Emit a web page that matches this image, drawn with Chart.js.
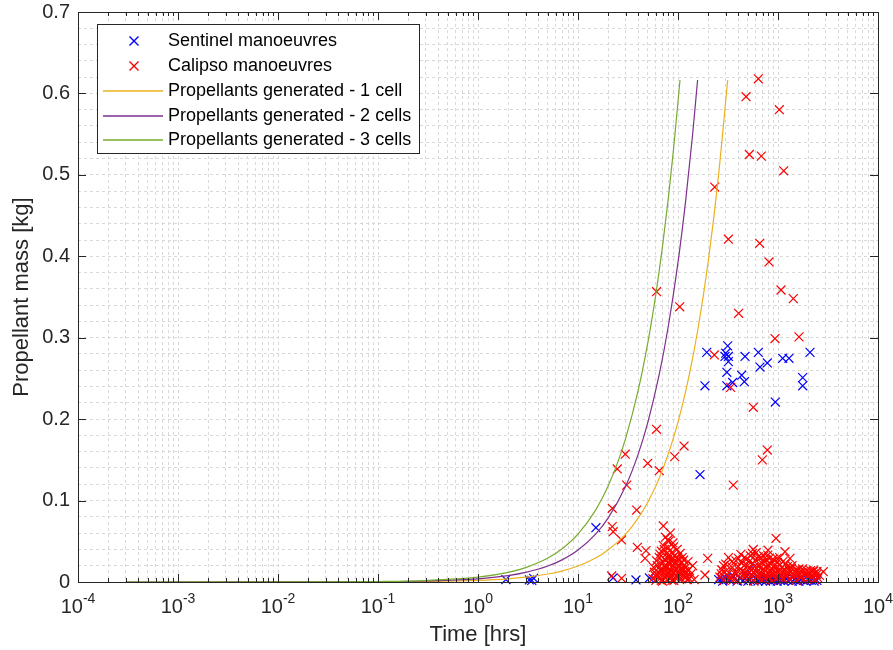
<!DOCTYPE html>
<html>
<head>
<meta charset="utf-8">
<script src="https://cdn.jsdelivr.net/npm/chart.js@4.4.1/dist/chart.umd.min.js"></script>
<style>
  html, body { margin: 0; padding: 0; background: #fff; }
  #wrap { position: relative; width: 893px; height: 650px; }
</style>
</head>
<body>
<div id="wrap"><canvas id="chart"></canvas></div>
<script>
// axis ticks
const xDecades = [-4, -3, -2, -1, 0, 1, 2, 3, 4];
const yTickValues = [0, 0.1, 0.2, 0.3, 0.4, 0.5, 0.6, 0.7];

const seriesNames = [
  'Sentinel manoeuvres',
  'Calipso manoeuvres',
  'Propellants generated - 1 cell',
  'Propellants generated - 2 cells',
  'Propellants generated - 3 cells',
];
const seriesColors = ['#0000ff', '#ff0000', '#edb120', '#7e2f8e', '#77ac30'];

// [time hrs, propellant kg]
const sentinelPoints = [
  [1.9, 0.003], [3.26, 0.0025], [3.45, 0.002], [3.6, 0.0045], [15.1, 0.0667],
  [22.4, 0.005], [38, 0.0025], [51.8, 0.005],
  [166, 0.132], [186, 0.241], [194, 0.282], [295, 0.277], [300, 0.281],
  [308, 0.2575], [308, 0.241], [314, 0.29], [319, 0.277], [319, 0.2706],
  [352, 0.245], [433, 0.254], [461, 0.246], [468, 0.277], [636, 0.282],
  [661, 0.264], [782, 0.269], [940, 0.221], [1114, 0.2747], [1288, 0.2747],
  [1766, 0.251], [1766, 0.241], [2089, 0.282],
  [255, 0.003], [275, 0.004], [280, 0.001], [300, 0.005], [330, 0.002],
  [360, 0.007], [390, 0.001], [420, 0.004], [450, 0.002], [480, 0.006],
  [500, 0.001], [520, 0.003], [525, 0.0168], [545, 0.009], [570, 0.002],
  [600, 0.005], [630, 0.001], [660, 0.004], [690, 0.002], [720, 0.006],
  [750, 0.001], [780, 0.003], [810, 0.005], [840, 0.001], [870, 0.004],
  [900, 0.002], [940, 0.003], [980, 0.001], [1020, 0.004], [1060, 0.002],
  [1100, 0.003], [1150, 0.001], [1200, 0.004], [1260, 0.002], [1320, 0.003],
  [1390, 0.001], [1460, 0.003], [1540, 0.002], [1620, 0.001], [1700, 0.003],
  [1800, 0.002], [1900, 0.001], [2000, 0.003], [2150, 0.002], [2300, 0.001],
  [2450, 0.002],
];

const calipsoPoints = [
  [636, 0.618], [479, 0.596], [1031, 0.58], [517, 0.525], [681, 0.523],
  [1140, 0.505], [233, 0.485], [319, 0.421], [656, 0.416], [813, 0.393],
  [61, 0.3565], [1072, 0.3586], [1423, 0.348], [104, 0.338], [404, 0.33],
  [933, 0.299], [1622, 0.301], [231, 0.2788], [336, 0.239], [566, 0.2145],
  [61, 0.1875], [782, 0.162], [697, 0.15], [29.7, 0.157], [115, 0.167],
  [92.7, 0.154], [49.8, 0.1458], [24.7, 0.1388], [65, 0.1367], [30.7, 0.119],
  [357, 0.119], [22, 0.0905], [38.6, 0.0884], [22, 0.068], [22.5, 0.0618],
  [27.3, 0.0516], [71.3, 0.0688], [79, 0.0516], [39.2, 0.0426], [47.9, 0.0385],
  [46.8, 0.029], [198, 0.029], [275, 0.0147], [21.7, 0.0074], [27.3, 0.0045],
  [186, 0.0086], [120, 0.0058], [113, 0.0156], [955, 0.0537], [1175, 0.0372],
  [402, 0.029], [566, 0.04], [794, 0.039], [2838, 0.0127], [2270, 0.0147],
  [1317, 0.029],
  // cluster around 100 hrs
  [56, 0.004], [58, 0.012], [60, 0.002], [62, 0.02], [63, 0.008], [65, 0.03],
  [66, 0.015], [67, 0.005], [68, 0.038], [69, 0.022], [70, 0.001], [71, 0.045],
  [72, 0.012], [73, 0.028], [74, 0.006], [75, 0.055], [76, 0.018], [77, 0.035],
  [78, 0.003], [79, 0.024], [80, 0.042], [81, 0.01], [82, 0.03], [83, 0.016],
  [84, 0.06], [85, 0.006], [86, 0.026], [87, 0.036], [88, 0.012], [89, 0.048],
  [90, 0.02], [91, 0.002], [92, 0.032], [93, 0.014], [95, 0.025], [96, 0.007],
  [98, 0.04], [100, 0.018], [102, 0.028], [104, 0.009], [106, 0.022], [108, 0.004],
  [110, 0.03], [112, 0.014], [115, 0.02], [118, 0.006], [122, 0.012], [126, 0.025],
  [130, 0.004], [135, 0.01], [145, 0.003],
  [57, 0.018], [59, 0.008], [61, 0.026], [64, 0.011], [66, 0.034], [68, 0.002],
  [70, 0.016], [71, 0.024], [73, 0.04], [74, 0.019], [76, 0.008], [78, 0.03],
  [80, 0.012], [81, 0.05], [83, 0.004], [84, 0.022], [86, 0.014], [87, 0.002],
  [88, 0.03], [90, 0.043], [91, 0.011], [93, 0.024], [94, 0.005], [97, 0.016],
  [99, 0.03], [101, 0.006], [103, 0.013], [105, 0.035], [107, 0.017], [109, 0.024],
  [111, 0.008], [114, 0.027], [117, 0.013], [120, 0.018], [124, 0.003], [128, 0.015],
  [140, 0.02],
  // cluster around 1000 hrs
  [262, 0.006], [275, 0.015], [290, 0.002], [300, 0.022], [310, 0.009], [320, 0.03],
  [335, 0.004], [350, 0.018], [365, 0.011], [380, 0.026], [395, 0.002], [410, 0.014],
  [425, 0.034], [440, 0.007], [455, 0.02], [470, 0.012], [485, 0.028], [500, 0.004],
  [515, 0.017], [530, 0.032], [545, 0.009], [560, 0.023], [575, 0.001], [590, 0.014],
  [605, 0.036], [620, 0.006], [640, 0.02], [655, 0.011], [670, 0.03], [690, 0.003],
  [710, 0.016], [730, 0.025], [750, 0.008], [770, 0.019], [790, 0.033], [810, 0.005],
  [830, 0.013], [850, 0.022], [870, 0.002], [890, 0.028], [910, 0.01], [935, 0.017],
  [960, 0.004], [985, 0.024], [1010, 0.012], [1040, 0.03], [1070, 0.007], [1100, 0.018],
  [1130, 0.003], [1160, 0.014], [1190, 0.022], [1220, 0.009], [1260, 0.016], [1300, 0.004],
  [1340, 0.012], [1380, 0.02], [1420, 0.006], [1470, 0.014], [1520, 0.002], [1570, 0.01],
  [1620, 0.016], [1680, 0.005], [1740, 0.012], [1800, 0.003], [1870, 0.009], [1940, 0.014],
  [2010, 0.004], [2090, 0.011], [2170, 0.006], [2250, 0.013], [2330, 0.003], [2420, 0.009],
  [2500, 0.005],
  [270, 0.01], [285, 0.02], [305, 0.014], [325, 0.005], [345, 0.025], [360, 0.003],
  [375, 0.012], [400, 0.019], [430, 0.024], [445, 0.013], [460, 0.03], [480, 0.008],
  [495, 0.02], [510, 0.011], [525, 0.026], [540, 0.015], [555, 0.035], [580, 0.019],
  [600, 0.027], [615, 0.012], [635, 0.031], [650, 0.005], [665, 0.017], [680, 0.024],
  [700, 0.01], [720, 0.032], [740, 0.014], [760, 0.027], [780, 0.007], [800, 0.021],
  [820, 0.029], [845, 0.009], [860, 0.016], [880, 0.025], [920, 0.02], [950, 0.012],
  [975, 0.029], [1000, 0.006], [1050, 0.021], [1090, 0.013], [1120, 0.025], [1180, 0.008],
  [1240, 0.019], [1280, 0.011], [1360, 0.017], [1450, 0.009], [1550, 0.015], [1650, 0.01],
  [1760, 0.016], [1850, 0.012], [1980, 0.008], [2120, 0.014], [2280, 0.01], [2450, 0.013],
  [2600, 0.008],
];

// generation curves
const cell1Time = [0.0003, 0.001, 0.01, 0.1, 0.3, 1, 2, 3, 5, 7, 10, 15, 20, 30, 40, 50, 70, 100, 130, 160, 200, 250, 314];
const cell1Mass = [0.0000006, 0.000002, 0.00002, 0.0002, 0.0006, 0.002, 0.0039, 0.0059, 0.0098, 0.0137, 0.0196, 0.0294, 0.0393, 0.0589, 0.0785, 0.0982, 0.1374, 0.1963, 0.2552, 0.3141, 0.3926, 0.4908, 0.6165];
const cell2Time = [0.0003, 0.001, 0.01, 0.1, 0.3, 1, 2, 3, 5, 7, 10, 15, 20, 30, 40, 50, 65, 80, 100, 120, 140, 157];
const cell2Mass = [0.0000012, 0.000004, 0.00004, 0.0004, 0.0012, 0.0039, 0.0079, 0.0118, 0.0196, 0.0275, 0.0393, 0.0589, 0.0785, 0.1178, 0.157, 0.1963, 0.2552, 0.3141, 0.3926, 0.4711, 0.5496, 0.6165];
const cell3Time = [0.0003, 0.001, 0.01, 0.1, 0.3, 1, 2, 3, 5, 7, 10, 15, 20, 25, 30, 40, 50, 60, 70, 80, 90, 104.7];
const cell3Mass = [0.0000018, 0.000006, 0.00006, 0.0006, 0.0018, 0.0059, 0.0118, 0.0177, 0.0294, 0.0412, 0.0589, 0.0883, 0.1178, 0.1472, 0.1767, 0.2356, 0.2944, 0.3533, 0.4122, 0.4711, 0.53, 0.6165];

const axisColor = '#262626';
const gridColor = '#d9d9d9';
const fontFamily = '"Liberation Sans", Arial, Helvetica, sans-serif';

function toPoints(pairs) {
  return pairs.map(([t, m]) => ({x: t, y: m}));
}

function zip(times, masses) {
  return times.map((t, i) => ({x: t, y: masses[i]}));
}

function scatterSet(index, pairs, order) {
  return {
    label: seriesNames[index],
    data: toPoints(pairs),
    showLine: false,
    pointStyle: 'crossRot',
    pointRadius: 6.3,
    pointBorderWidth: 1.2,
    borderColor: seriesColors[index],
    backgroundColor: seriesColors[index],
    clip: false,
    order,
  };
}

function curveSet(index, times, masses, order) {
  return {
    label: seriesNames[index],
    data: zip(times, masses),
    showLine: true,
    pointRadius: 0,
    borderColor: seriesColors[index],
    backgroundColor: seriesColors[index],
    borderWidth: 1.2,
    cubicInterpolationMode: 'monotone',
    fill: false,
    order,
  };
}

// box, inward ticks, 10^n labels and legend like the original figure
const matlabAxes = {
  id: 'matlabAxes',
  afterDraw(chart) {
    const {ctx, chartArea: a, scales: {x, y}} = chart;
    ctx.save();
    ctx.strokeStyle = axisColor;
    ctx.lineWidth = 1;
    ctx.beginPath();
    for (const e of xDecades) {
      for (let m = 1; m < 10; m++) {
        const v = m * Math.pow(10, e);
        if (v > 1e4) break;
        const px = Math.round(x.getPixelForValue(v)) + 0.5;
        const len = m === 1 ? 8 : 4;
        ctx.moveTo(px, a.bottom);
        ctx.lineTo(px, a.bottom - len);
        ctx.moveTo(px, a.top);
        ctx.lineTo(px, a.top + len);
      }
    }
    for (const v of yTickValues) {
      const py = Math.round(y.getPixelForValue(v)) + 0.5;
      ctx.moveTo(a.left, py);
      ctx.lineTo(a.left + 8, py);
      ctx.moveTo(a.right, py);
      ctx.lineTo(a.right - 8, py);
    }
    ctx.stroke();
    ctx.strokeRect(Math.round(a.left) + 0.5, Math.round(a.top) + 0.5,
      Math.round(a.right - a.left), Math.round(a.bottom - a.top));

    // x tick labels 10^n
    ctx.fillStyle = axisColor;
    ctx.textBaseline = 'alphabetic';
    ctx.textAlign = 'left';
    for (const e of xDecades) {
      const px = x.getPixelForValue(Math.pow(10, e));
      const exp = String(e);
      ctx.font = '20px ' + fontFamily;
      const wb = ctx.measureText('10').width;
      ctx.font = '14px ' + fontFamily;
      const we = ctx.measureText(exp).width;
      const start = px - (wb + we) / 2;
      ctx.font = '20px ' + fontFamily;
      ctx.fillText('10', start, a.bottom + 31);
      ctx.font = '14px ' + fontFamily;
      ctx.fillText(exp, start + wb, a.bottom + 21);
    }

    // legend
    const box = {left: 97, top: 24, right: 419, bottom: 153};
    ctx.fillStyle = '#ffffff';
    ctx.fillRect(box.left, box.top, box.right - box.left, box.bottom - box.top);
    ctx.strokeStyle = axisColor;
    ctx.lineWidth = 1;
    ctx.strokeRect(box.left + 0.5, box.top + 0.5, box.right - box.left, box.bottom - box.top);
    const rows = [41, 66, 91, 116, 140];
    ctx.font = '18px ' + fontFamily;
    ctx.textBaseline = 'middle';
    seriesNames.forEach((name, i) => {
      const ry = rows[i];
      ctx.strokeStyle = seriesColors[i];
      ctx.lineWidth = 1.4;
      ctx.beginPath();
      if (i < 2) {
        ctx.moveTo(134 - 4.5, ry - 4.5);
        ctx.lineTo(134 + 4.5, ry + 4.5);
        ctx.moveTo(134 - 4.5, ry + 4.5);
        ctx.lineTo(134 + 4.5, ry - 4.5);
      } else {
        ctx.moveTo(103, ry);
        ctx.lineTo(163, ry);
      }
      ctx.stroke();
      ctx.fillStyle = '#000000';
      ctx.fillText(name, 168, ry);
    });
    ctx.restore();
  },
};

const xGrid = [];
for (const e of xDecades) {
  for (let m = 1; m < 10; m++) {
    const v = m * Math.pow(10, e);
    if (v <= 1e4) xGrid.push(v);
  }
}
const yGrid = [];
for (let i = 0; i <= 35; i++) yGrid.push(i / 50);

new Chart(document.getElementById('chart'), {
  type: 'scatter',
  data: {
    datasets: [
      scatterSet(0, sentinelPoints, 5),
      scatterSet(1, calipsoPoints, 4),
      curveSet(2, cell1Time, cell1Mass, 3),
      curveSet(3, cell2Time, cell2Mass, 2),
      curveSet(4, cell3Time, cell3Mass, 1),
    ],
  },
  options: {
    responsive: true,
    maintainAspectRatio: false,
    animation: false,
    layout: {
      autoPadding: false,
      padding: {left: 0, right: 15, top: 12, bottom: 0},
    },
    plugins: {
      legend: {display: false},
      tooltip: {enabled: false},
    },
    scales: {
      x: {
        type: 'logarithmic',
        min: 1e-4,
        max: 1e4,
        afterBuildTicks: axis => {
          axis.ticks = xGrid.map(value => ({value}));
        },
        afterFit: axis => {
          axis.height = 68;
          axis.paddingLeft = 0;
          axis.paddingRight = 0;
        },
        ticks: {display: false},
        grid: {color: gridColor, lineWidth: 1, drawTicks: false},
        border: {display: false, dash: [3, 3]},
        title: {
          display: true,
          text: 'Time [hrs]',
          color: axisColor,
          font: {family: fontFamily, size: 22},
          padding: {top: 0, bottom: 2},
        },
      },
      y: {
        type: 'linear',
        min: 0,
        max: 0.7,
        afterBuildTicks: axis => {
          axis.ticks = yGrid.map(value => ({value}));
        },
        afterFit: axis => {
          axis.width = 78;
          axis.paddingTop = 0;
          axis.paddingBottom = 0;
        },
        ticks: {
          autoSkip: false,
          padding: 8,
          color: axisColor,
          font: {family: fontFamily, size: 20},
          callback: value => {
            const tenth = Math.round(value * 10);
            return Math.abs(value * 10 - tenth) < 1e-6 ? String(tenth / 10) : '';
          },
        },
        grid: {color: gridColor, lineWidth: 1, drawTicks: false},
        border: {display: false, dash: [3, 3]},
        title: {
          display: true,
          text: 'Propellant mass [kg]',
          color: axisColor,
          font: {family: fontFamily, size: 22},
          padding: {top: 9, bottom: 0},
        },
      },
    },
  },
  plugins: [matlabAxes],
});
</script>
</body>
</html>
